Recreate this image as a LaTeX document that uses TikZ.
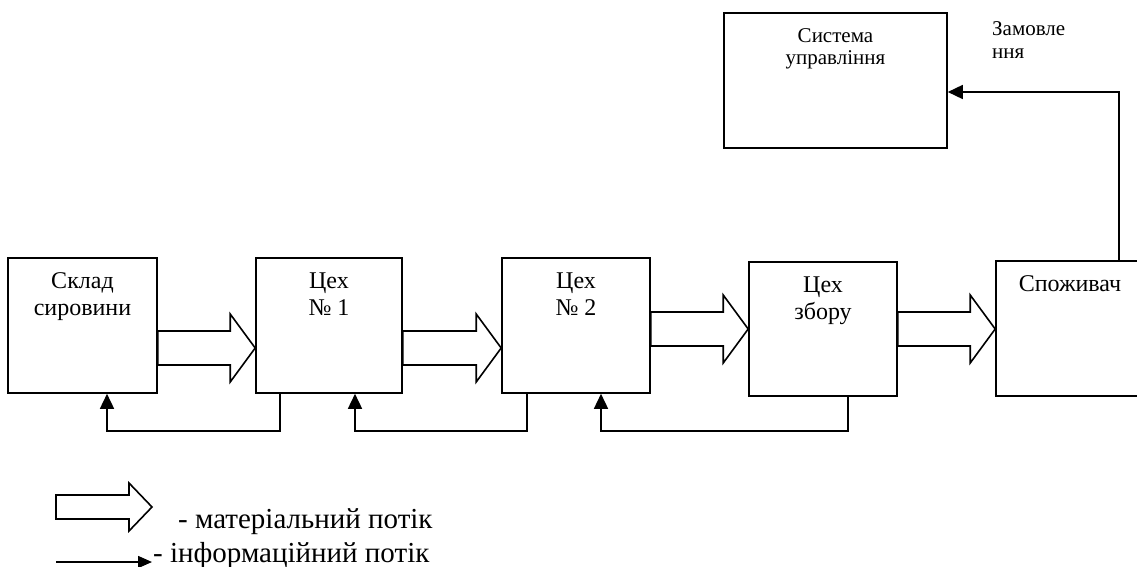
\documentclass[tikz,border=0pt]{standalone}
\usepackage{fontspec}
\setmainfont{Liberation Serif}
\usetikzlibrary{calc,arrows.meta}
\tikzset{
  box/.style={draw, line width=1.6pt, minimum height=135pt, inner sep=0pt},
  lbl/.style={font=\fontsize{24}{27}\selectfont, align=center, inner sep=0pt, anchor=north},
  matflow/.style={draw, line width=1.6pt, fill=white, line join=miter},
  info/.style={draw, line width=1.6pt, -{Triangle[length=15pt,width=14pt]}},
  legtext/.style={font=\fontsize{29}{34}\selectfont, inner sep=0pt, anchor=base west},
}
\newcommand\barrow[3]{%
  \draw[matflow] let \p1=(#1), \p2=(#2), \p3=(0,#3) in
    (\x1,\y3+17pt) -- (\x2-25pt,\y3+17pt) -- (\x2-25pt,\y3+34pt) -- (\x2,\y3)
    -- (\x2-25pt,\y3-34pt) -- (\x2-25pt,\y3-17pt) -- (\x1,\y3-17pt) -- cycle;}
\begin{document}
\begin{tikzpicture}[x=1pt,y=-1pt]
\useasboundingbox (0,0) rectangle (1137,567);
% boxes
\node[box, minimum width=149pt] (s)  at (82.5,325.5) {};
\node[box, minimum width=146pt] (c1) at (329,325.5) {};
\node[box, minimum width=148pt] (c2) at (576,325.5) {};
\node[box, minimum width=148pt, minimum height=134pt] (zb) at (823,329) {};
\node[box, minimum width=148pt] (sp) at (1070,328.5) {};
\node[box, minimum width=223pt] (sys) at (835.5,80.5) {};
% labels
\node[lbl] (st)  at ($(s.north)+(0,15)$) {Склад\\сировини};
\node[lbl] (c1t) at ($(c1.north)+(0,15)$) {Цех\\№ 1};
\node[lbl] (c2t) at ($(c2.north)+(0,15)$) {Цех\\№ 2};
\node[lbl] (zbt) at ($(zb.north)+(0,15)$) {Цех\\збору};
\node[lbl] (spt) at ($(sp.north)+(0,15)$) {Споживач};
\node[lbl, font=\fontsize{21}{22}\selectfont] (syst) at ($(sys.north)+(0,16)$) {Система\\управління};
\node[font=\fontsize{21}{23}\selectfont, align=left, inner sep=0pt, anchor=north west] (zam) at (992,21) {Замовле\\ння};
% material flows
\barrow{s.east}{c1.west}{348}
\barrow{c1.east}{c2.west}{348}
\barrow{c2.east}{zb.west}{329}
\barrow{zb.east}{sp.west}{329}
% information flows
\draw[info] ([xshift=-49pt]c1.south) -- ++(0,37) -| ([xshift=24.5pt]s.south);
\draw[info] ([xshift=-49pt]c2.south) -- ++(0,37) -| ([xshift=26pt]c1.south);
\draw[info] ([xshift=25pt]zb.south) -- ++(0,34) -| ([xshift=25pt]c2.south);
\draw[info] ([xshift=49pt]sp.north) |- ([yshift=-11.5pt]sys.east);
% legend
\coordinate (lm) at (56,507);
\draw[matflow] (lm) ++(0,-12) -- ++(73,0) -- ++(0,-12) -- (152,507) -- (129,531) -- (129,519) -- (56,519) -- cycle;
\node[legtext] (lmt) at (178,528) {- матеріальний потік};
\coordinate (li1) at (56,562);
\coordinate (li2) at (152,562);
\draw[info, -{Triangle[length=14pt,width=12pt]}] (li1) -- (li2);
\node[legtext] (lit) at (153,562) {- інформаційний потік};
\end{tikzpicture}
\end{document}
